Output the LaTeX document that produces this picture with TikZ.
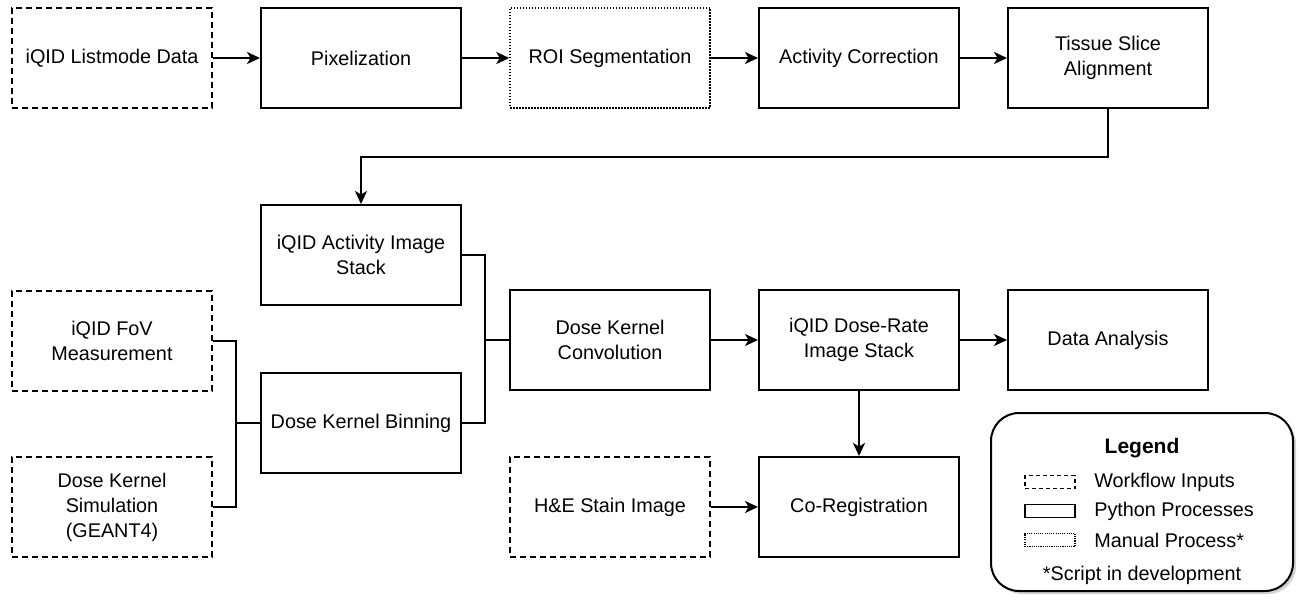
\documentclass[tikz,border=0pt]{standalone}
\usepackage{fontspec}
\setmainfont{Liberation Sans}
\usetikzlibrary{arrows.meta,shadows}

\begin{document}
\begin{tikzpicture}[x=1pt, y=-1pt, >={Stealth[length=13pt,width=12pt,inset=3.5pt]}, line width=2pt,
    font=\fontsize{19.8}{25}\selectfont,
    proc/.style={draw, rectangle, minimum width=200pt, minimum height=100pt, align=center},
    inputbox/.style={proc, line width=1.8pt, dash pattern=on 6pt off 4pt},
    manualbox/.style={proc, line width=1.5pt, dash pattern=on 1.5pt off 1.5pt},
    legendbox/.style={draw, rounded corners=28pt, minimum width=302pt, minimum height=178pt,
        fill=white, drop shadow={opacity=0.35, shadow xshift=3pt, shadow yshift=-3pt}},
    sample/.style={minimum width=50pt, minimum height=13pt, line width=1.3pt}]
    \useasboundingbox (0,0) rectangle (1300,601);

    % Acquisition chain
    \node[inputbox] (listmode) at (112,58) {iQID Listmode Data};
    \node[proc] (pixel) at (361,58) {Pixelization};
    \node[manualbox] (roi) at (610,58) {ROI Segmentation};
    \node[proc] (actcorr) at (859,58) {Activity Correction};
    \node[proc] (align) at (1108,58) {Tissue Slice\\Alignment};

    \draw[->] (listmode) -- (pixel);
    \draw[->] (pixel) -- (roi);
    \draw[->] (roi) -- (actcorr);
    \draw[->] (actcorr) -- (align);

    % Dose kernel inputs
    \node[proc] (actstack) at (361,255) {iQID Activity Image\\Stack};
    \node[proc] (binning) at (361,423) {Dose Kernel Binning};
    \node[inputbox] (fov) at (112,341) {iQID FoV\\Measurement};
    \node[inputbox] (sim) at (112,507) {Dose Kernel\\Simulation\\(GEANT4)};

    % Dose calculation
    \node[proc] (conv) at (610,340) {Dose Kernel\\Convolution};
    \node[proc] (dosestack) at (859,340) {iQID Dose-Rate\\Image Stack};
    \node[proc] (analysis) at (1108,340) {Data Analysis};
    \node[proc] (coreg) at (859,507) {Co-Registration};
    \node[inputbox] (stain) at (610,507) {H\&E Stain Image};

    \draw[->] (align.south) -- ++(0,48) -| (actstack.north);

    \coordinate (kjoin) at (236,423);
    \draw (fov.east) -| (kjoin) |- (sim.east);
    \draw (kjoin) -- (binning.west);

    \coordinate (cjoin) at (485,340);
    \draw (actstack.east) -| (cjoin) |- (binning.east);
    \draw (cjoin) -- (conv.west);

    \draw[->] (conv) -- (dosestack);
    \draw[->] (dosestack) -- (analysis);
    \draw[->] (dosestack) -- (coreg);
    \draw[->] (stain) -- (coreg);

    % Legend
    \node[legendbox] (legend) at (1142,502) {};
    \node[font=\fontsize{21}{25}\selectfont\bfseries] (legtitle) at (1142,448) {Legend};
    \node[draw, sample, dash pattern=on 4pt off 3pt] (leginput) at (1050,482) {};
    \node[draw, sample] (legpython) at (1050,511) {};
    \node[draw, sample, line width=1.1pt, dash pattern=on 1.1pt off 1.1pt] (legmanual) at (1050,540) {};
    \node[anchor=west] (legtxtin) at (1090,482) {Workflow Inputs};
    \node[anchor=west] (legtxtpy) at (1090,511) {Python Processes};
    \node[anchor=west] (legtxtma) at (1090,540) {Manual Process*};
    \node (legnote) at (1142,575) {*Script in development};
\end{tikzpicture}
\end{document}
